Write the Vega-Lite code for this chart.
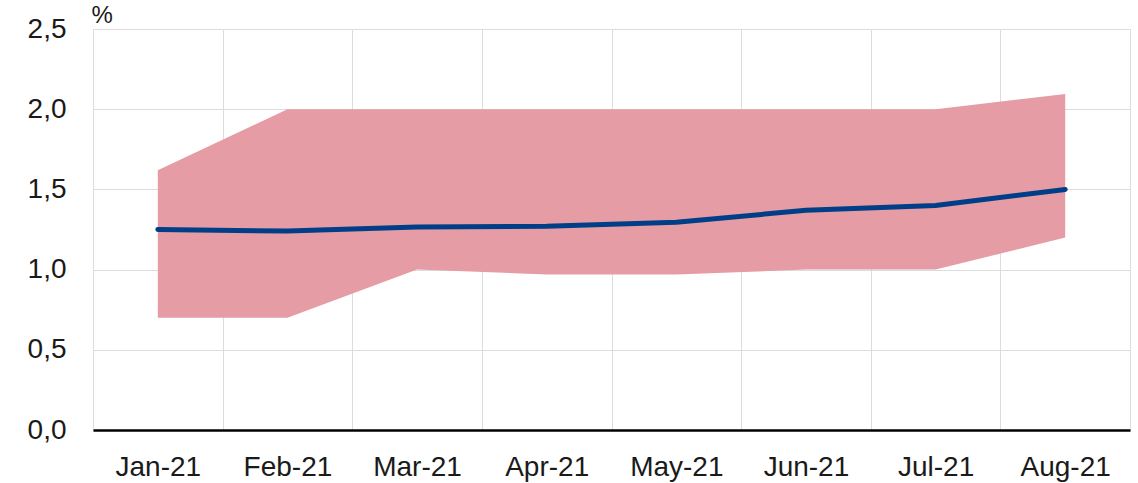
{
  "$schema": "https://vega.github.io/schema/vega-lite/v6.json",
  "autosize": "none",
  "width": 1037,
  "height": 401,
  "padding": {"left": 93, "top": 29, "right": 8, "bottom": 53},
  "background": "white",
  "config": {
    "view": {"stroke": null},
    "font": "Liberation Sans",
    "axis": {"labelFont": "Liberation Sans", "titleFont": "Liberation Sans"}
  },
  "data": {
    "values": [
      {"month": "Jan-21", "low": 0.70, "high": 1.62, "median": 1.25},
      {"month": "Feb-21", "low": 0.70, "high": 2.00, "median": 1.24},
      {"month": "Mar-21", "low": 1.00, "high": 2.00, "median": 1.265},
      {"month": "Apr-21", "low": 0.97, "high": 2.00, "median": 1.27},
      {"month": "May-21", "low": 0.97, "high": 2.00, "median": 1.295},
      {"month": "Jun-21", "low": 1.00, "high": 2.00, "median": 1.37},
      {"month": "Jul-21", "low": 1.00, "high": 2.00, "median": 1.40},
      {"month": "Aug-21", "low": 1.20, "high": 2.095, "median": 1.50}
    ]
  },
  "encoding": {
    "x": {
      "field": "month",
      "type": "ordinal",
      "sort": null,
      "scale": {"type": "band", "paddingInner": 0, "paddingOuter": 0},
      "axis": {
        "title": null,
        "labelAngle": 0,
        "labelFontSize": 28,
        "labelColor": "#1a1a1a",
        "labelPadding": 23,
        "ticks": false,
        "tickBand": "extent",
        "grid": true,
        "gridColor": "#dcdcdc",
        "gridWidth": 1,
        "domain": true,
        "domainColor": "#000000",
        "domainWidth": 2.5
      }
    }
  },
  "layer": [
    {
      "mark": {"type": "area", "color": "#e59ca5", "opacity": 1},
      "encoding": {
        "y": {
          "field": "low",
          "type": "quantitative",
          "scale": {"domain": [0, 2.5], "nice": false},
          "axis": {
            "title": "%",
            "titleAngle": 0,
            "titleFontSize": 24,
            "titleFontWeight": "normal",
            "titleColor": "#1a1a1a",
            "titleAlign": "left",
            "titleBaseline": "alphabetic",
            "titleX": -2,
            "titleY": -7,
            "values": [0, 0.5, 1, 1.5, 2, 2.5],
            "labelExpr": "replace(format(datum.value, '.1f'), '.', ',')",
            "labelFontSize": 28,
            "labelColor": "#1a1a1a",
            "labelPadding": 27,
            "ticks": false,
            "domain": false,
            "grid": true,
            "gridColor": "#dcdcdc",
            "gridWidth": 1
          }
        },
        "y2": {"field": "high"}
      }
    },
    {
      "mark": {"type": "line", "color": "#003f87", "strokeWidth": 5, "strokeCap": "round", "strokeJoin": "round"},
      "encoding": {
        "y": {"field": "median", "type": "quantitative"}
      }
    }
  ]
}
